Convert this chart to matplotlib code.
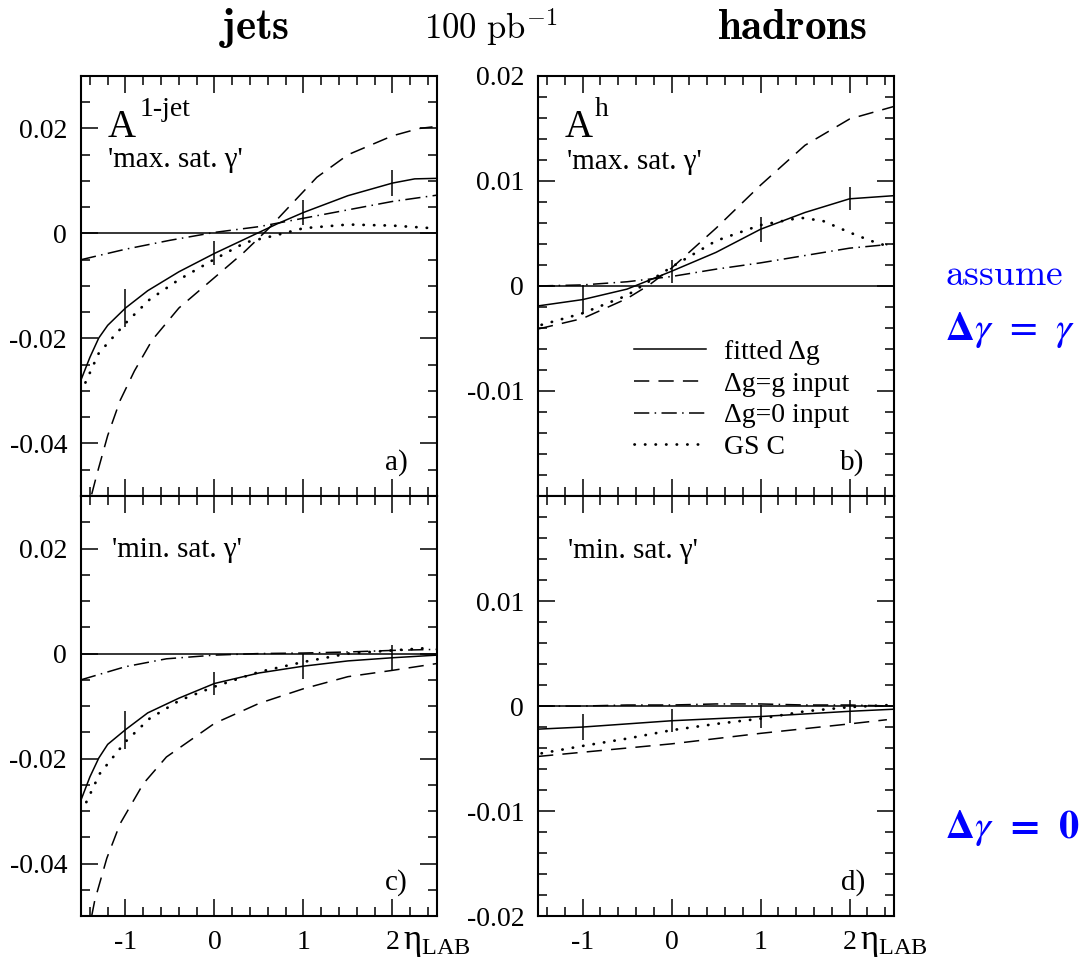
"""
Asymetrias de 1-jato e de hadrons em funcao de eta_LAB (100 pb^-1).
Quatro paineis: jatos/hadrons x hipoteses 'max. sat.' / 'min. sat.' para a polarizacao do foton.
"""

import matplotlib
matplotlib.use("Agg")
import matplotlib.pyplot as plt
from matplotlib.ticker import FixedLocator, FixedFormatter, MultipleLocator

plt.rcParams["font.family"] = "serif"
plt.rcParams["font.serif"] = ["Liberation Serif", "DejaVu Serif"]
plt.rcParams["mathtext.fontset"] = "custom"
plt.rcParams["mathtext.rm"] = "Liberation Serif"
plt.rcParams["mathtext.it"] = "Liberation Serif:italic"
plt.rcParams["mathtext.bf"] = "Liberation Serif:bold"

FS = 21      # textos dentro dos paineis
FS_TICK = 20  # rotulos dos eixos

# ---------------------------------------------------------------------------
# Eixos
# ---------------------------------------------------------------------------
ETA_TICKS = [-1, 0, 1, 2]
ETA_TICK_LABELS = ["-1", "0", "1", "2"]

JET_YTICKS = [-0.04, -0.02, 0.0, 0.02]
JET_YTICK_LABELS = ["-0.04", "-0.02", "0", "0.02"]
HAD_TOP_YTICKS = [-0.01, 0.0, 0.01, 0.02]
HAD_TOP_YTICK_LABELS = ["-0.01", "0", "0.01", "0.02"]
HAD_BOT_YTICKS = [-0.02, -0.01, 0.0, 0.01]
HAD_BOT_YTICK_LABELS = ["-0.02", "-0.01", "0", "0.01"]

LEGEND_LABELS = ["fitted \u0394g", "\u0394g=g input", "\u0394g=0 input", "GS C"]

# ---------------------------------------------------------------------------
# a) jatos, 'max. sat. gamma'
# ---------------------------------------------------------------------------
fit_a_x = [-1.5, -1.4, -1.3, -1.2, -1.0, -0.75, -0.4, 0.0, 0.5, 0.7, 1.0, 1.5, 2.0, 2.25, 2.5]
fit_a_y = [-0.0279, -0.0236, -0.0199, -0.0175, -0.0142, -0.0109, -0.0073, -0.0038,
           0.0002, 0.0018, 0.0040, 0.0072, 0.0096, 0.0104, 0.0105]
gin_a_x = [-1.38, -1.32, -1.2, -1.06, -0.9, -0.7, -0.4, 0.0, 0.33, 0.6, 0.85, 1.15, 1.5, 2.0, 2.3, 2.45]
gin_a_y = [-0.0497, -0.0458, -0.0385, -0.0318, -0.0262, -0.0203, -0.0142, -0.0084,
           -0.0036, 0.0008, 0.0053, 0.0107, 0.0150, 0.0186, 0.0200, 0.0203]
zero_a_x = [-1.5, -1.0, -0.5, 0.0, 0.5, 1.0, 1.5, 2.0, 2.5]
zero_a_y = [-0.0050, -0.0030, -0.0013, 0.0002, 0.0013, 0.0029, 0.0045, 0.0061, 0.0073]
gsc_a_x = [-1.45, -1.3, -1.0, -0.73, -0.4, 0.0, 0.35, 0.7, 1.0, 1.5, 2.0, 2.45]
gsc_a_y = [-0.0284, -0.0228, -0.0171, -0.0126, -0.0088, -0.0049, -0.0017, -0.0003,
           0.0010, 0.0017, 0.0015, 0.0010]
err_a_y = [-0.0142, -0.0038, 0.0040, 0.0096]
err_a_size = [0.0036, 0.0023, 0.0023, 0.0025]

# ---------------------------------------------------------------------------
# b) hadrons, 'max. sat. gamma'
# ---------------------------------------------------------------------------
fit_b_x = [-1.5, -1.0, -0.5, 0.0, 0.5, 1.0, 1.5, 2.0, 2.5]
fit_b_y = [-0.0019, -0.0013, -0.0003, 0.0014, 0.0032, 0.0054, 0.0070, 0.0083, 0.0086]
gin_b_x = [-1.5, -1.0, -0.5, -0.25, 0.0, 0.5, 1.0, 1.5, 2.0, 2.5]
gin_b_y = [-0.0041, -0.0031, -0.0012, 0.0001, 0.0017, 0.0055, 0.0096, 0.0134, 0.0159, 0.0171]
zero_b_x = [-1.5, -1.0, -0.5, 0.0, 0.5, 1.0, 1.5, 2.0, 2.5]
zero_b_y = [0.0000, 0.0001, 0.0004, 0.0009, 0.0016, 0.0022, 0.0029, 0.0036, 0.0040]
gsc_b_x = [-1.46, -1.0, -0.5, 0.0, 0.5, 1.0, 1.45, 1.7, 2.0, 2.24, 2.46]
gsc_b_y = [-0.0037, -0.0026, -0.0009, 0.0018, 0.0043, 0.0058, 0.0065, 0.0062,
           0.0051, 0.0043, 0.0037]
err_b_y = [-0.0013, 0.0014, 0.0054, 0.0083]
err_b_size = [0.0014, 0.0011, 0.0012, 0.0011]

# ---------------------------------------------------------------------------
# c) jatos, 'min. sat. gamma'
# ---------------------------------------------------------------------------
fit_c_x = [-1.5, -1.4, -1.3, -1.2, -1.0, -0.75, -0.4, 0.0, 0.5, 1.0, 1.5, 2.0, 2.5]
fit_c_y = [-0.0279, -0.0235, -0.0199, -0.0173, -0.0145, -0.0113, -0.0085, -0.0057,
           -0.0037, -0.0024, -0.0014, -0.0008, -0.0003]
gin_c_x = [-1.38, -1.345, -1.21, -1.06, -0.8, -0.54, 0.0, 0.5, 1.0, 1.5, 2.0, 2.5]
gin_c_y = [-0.0500, -0.0470, -0.0390, -0.0324, -0.0248, -0.0197, -0.0133, -0.0095,
           -0.0067, -0.0044, -0.0032, -0.0019]
zero_c_x = [-1.5, -1.0, -0.54, 0.0, 0.5, 1.0, 1.5, 2.0, 2.5]
zero_c_y = [-0.0050, -0.0025, -0.0010, -0.0003, 0.0000, 0.0001, 0.0003, 0.0006, 0.0008]
gsc_c_x = [-1.44, -1.29, -1.0, -0.73, -0.39, 0.0, 0.5, 1.0, 1.5, 2.0, 2.43]
gsc_c_y = [-0.0283, -0.0229, -0.0168, -0.0124, -0.0089, -0.0063, -0.0035, -0.0016,
           0.0000, 0.0006, 0.0011]
err_c_y = [-0.0145, -0.0057, -0.0024, -0.0008]
err_c_size = [0.0036, 0.0022, 0.0024, 0.0025]

# ---------------------------------------------------------------------------
# d) hadrons, 'min. sat. gamma'
# ---------------------------------------------------------------------------
fit_d_x = [-1.5, -1.0, 0.0, 1.0, 2.0, 2.5]
fit_d_y = [-0.0022, -0.0020, -0.0014, -0.0010, -0.0005, -0.0003]
gin_d_x = [-1.5, -1.0, 0.0, 1.0, 2.0, 2.42]
gin_d_y = [-0.0048, -0.0044, -0.0036, -0.0026, -0.0017, -0.0013]
zero_d_x = [-1.5, -1.0, -0.5, 0.0, 0.5, 1.0, 1.5, 2.0, 2.5]
zero_d_y = [0.0000, 0.0000, 0.0001, 0.0001, 0.0002, 0.0002, 0.0001, 0.0001, 0.0000]
gsc_d_x = [-1.46, -1.0, -0.5, 0.0, 0.5, 1.0, 1.5, 2.0, 2.46]
gsc_d_y = [-0.0045, -0.0038, -0.0031, -0.0023, -0.0017, -0.0012, -0.0005, -0.0001, 0.0001]
err_d_y = [-0.0020, -0.0014, -0.0010, -0.0005]
err_d_size = [0.0012, 0.0011, 0.0011, 0.0011]

ERR_ETA = [-1, 0, 1, 2]

STYLE_FIT = dict(color="k", lw=1.1, ls="-")
STYLE_GIN = dict(color="k", lw=1.1, ls=(0, (10, 6)))
STYLE_ZERO = dict(color="k", lw=1.1, ls=(0, (10, 3.5, 1, 3.5)))
STYLE_GSC = dict(color="k", lw=2.0, ls=(0, (0.1, 3.7)), dash_capstyle="round")


def draw_panel(ax, fit, gin, zero, gsc, err_y, err_size):
    ax.axhline(0.0, color="k", lw=1.1)
    lines = [
        ax.plot(*fit, **STYLE_FIT)[0],
        ax.plot(*gin, **STYLE_GIN)[0],
        ax.plot(*zero, **STYLE_ZERO)[0],
        ax.plot(*gsc, **STYLE_GSC)[0],
    ]
    ax.errorbar(ERR_ETA, err_y, yerr=err_size, fmt="none", ecolor="k",
                elinewidth=1.1, capsize=0)
    return lines


def style_axes(ax, ylim, yticks, ylabels, yminor, show_x):
    ax.set_xlim(-1.5, 2.5)
    ax.set_ylim(*ylim)
    ax.xaxis.set_major_locator(FixedLocator(ETA_TICKS))
    ax.xaxis.set_major_formatter(FixedFormatter(ETA_TICK_LABELS))
    ax.xaxis.set_minor_locator(MultipleLocator(0.2))
    ax.yaxis.set_major_locator(FixedLocator(yticks))
    ax.yaxis.set_major_formatter(FixedFormatter(ylabels))
    ax.yaxis.set_minor_locator(MultipleLocator(yminor))
    ax.tick_params(which="both", direction="in", top=True, right=True,
                   labelsize=FS_TICK, width=1.1)
    ax.tick_params(which="major", length=12, pad=10)
    ax.tick_params(which="minor", length=6.5)
    ax.tick_params(axis="x", labelbottom=show_x)
    for sp in ax.spines.values():
        sp.set_linewidth(1.5)
    if show_x:
        ax.text(0.905, -0.078, r"$\mathrm{\eta}_{\mathrm{LAB}}$", transform=ax.transAxes,
                fontsize=25, ha="left", va="baseline")


fig = plt.figure(figsize=(10.9, 9.74), dpi=100)
W, H = 0.3266, 0.4312
ax_a = fig.add_axes([0.0743, 0.4908, W, H])
ax_b = fig.add_axes([0.4936, 0.4908, W, H])
ax_c = fig.add_axes([0.0743, 0.0595, W, H])
ax_d = fig.add_axes([0.4936, 0.0595, W, H])

draw_panel(ax_a, (fit_a_x, fit_a_y), (gin_a_x, gin_a_y), (zero_a_x, zero_a_y),
           (gsc_a_x, gsc_a_y), err_a_y, err_a_size)
handles = draw_panel(ax_b, (fit_b_x, fit_b_y), (gin_b_x, gin_b_y), (zero_b_x, zero_b_y),
                     (gsc_b_x, gsc_b_y), err_b_y, err_b_size)
draw_panel(ax_c, (fit_c_x, fit_c_y), (gin_c_x, gin_c_y), (zero_c_x, zero_c_y),
           (gsc_c_x, gsc_c_y), err_c_y, err_c_size)
draw_panel(ax_d, (fit_d_x, fit_d_y), (gin_d_x, gin_d_y), (zero_d_x, zero_d_y),
           (gsc_d_x, gsc_d_y), err_d_y, err_d_size)

style_axes(ax_a, (-0.05, 0.03), JET_YTICKS, JET_YTICK_LABELS, 0.005, False)
style_axes(ax_c, (-0.05, 0.03), JET_YTICKS, JET_YTICK_LABELS, 0.005, True)
style_axes(ax_b, (-0.02, 0.02), HAD_TOP_YTICKS, HAD_TOP_YTICK_LABELS, 0.002, False)
style_axes(ax_d, (-0.02, 0.02), HAD_BOT_YTICKS, HAD_BOT_YTICK_LABELS, 0.002, True)

# titulos internos dos paineis
for ax, sup, supx in ((ax_a, "1-jet", 0.166), (ax_b, "h", 0.160)):
    ax.text(0.076, 0.855, "A", transform=ax.transAxes, fontsize=28, va="baseline")
    ax.text(supx, 0.905, sup, transform=ax.transAxes, fontsize=20, va="baseline")
ax_a.text(0.076, 0.784, "'max. sat. \u03b3'", transform=ax_a.transAxes, fontsize=FS, va="baseline")
ax_b.text(0.080, 0.778, "'max. sat. \u03b3'", transform=ax_b.transAxes, fontsize=FS, va="baseline")
ax_c.text(0.087, 0.855, "'min. sat. \u03b3'", transform=ax_c.transAxes, fontsize=FS, va="baseline")
ax_d.text(0.084, 0.852, "'min. sat. \u03b3'", transform=ax_d.transAxes, fontsize=FS, va="baseline")

for ax, tag in ((ax_a, "a)"), (ax_b, "b)"), (ax_c, "c)"), (ax_d, "d)")):
    ax.text(0.918, 0.062, tag, transform=ax.transAxes, fontsize=FS, ha="right", va="baseline")

ax_b.legend(handles, LEGEND_LABELS, loc="upper left", bbox_to_anchor=(0.27, 0.372),
            frameon=False, fontsize=20, handlelength=2.6, handletextpad=0.65,
            labelspacing=0.22, borderpad=0, borderaxespad=0)

# cabecalho e anotacoes laterais
fig.text(0.233, 0.960, r"$\mathbf{jets}$", fontsize=31, ha="center", va="baseline",
         math_fontfamily="cm")
fig.text(0.45, 0.960, r"$100\ \mathrm{pb}^{-1}$", fontsize=25, ha="center", va="baseline",
         math_fontfamily="cm")
fig.text(0.727, 0.960, r"$\mathbf{hadrons}$", fontsize=31, ha="center", va="baseline",
         math_fontfamily="cm")
fig.text(0.867, 0.707, r"$\mathrm{assume}$", fontsize=27, color="blue", va="baseline",
         math_fontfamily="cm")
fig.text(0.867, 0.651, r"$\mathbf{\Delta}\gamma\;\,=\;\,\gamma$", fontsize=29, color="blue",
         va="baseline", math_fontfamily="stix")
fig.text(0.867, 0.140, r"$\mathbf{\Delta}\gamma\;\,\mathbf{=}\;\,\mathbf{0}$", fontsize=29,
         color="blue", va="baseline", math_fontfamily="stix")

fig.savefig("out.png", dpi=100)
